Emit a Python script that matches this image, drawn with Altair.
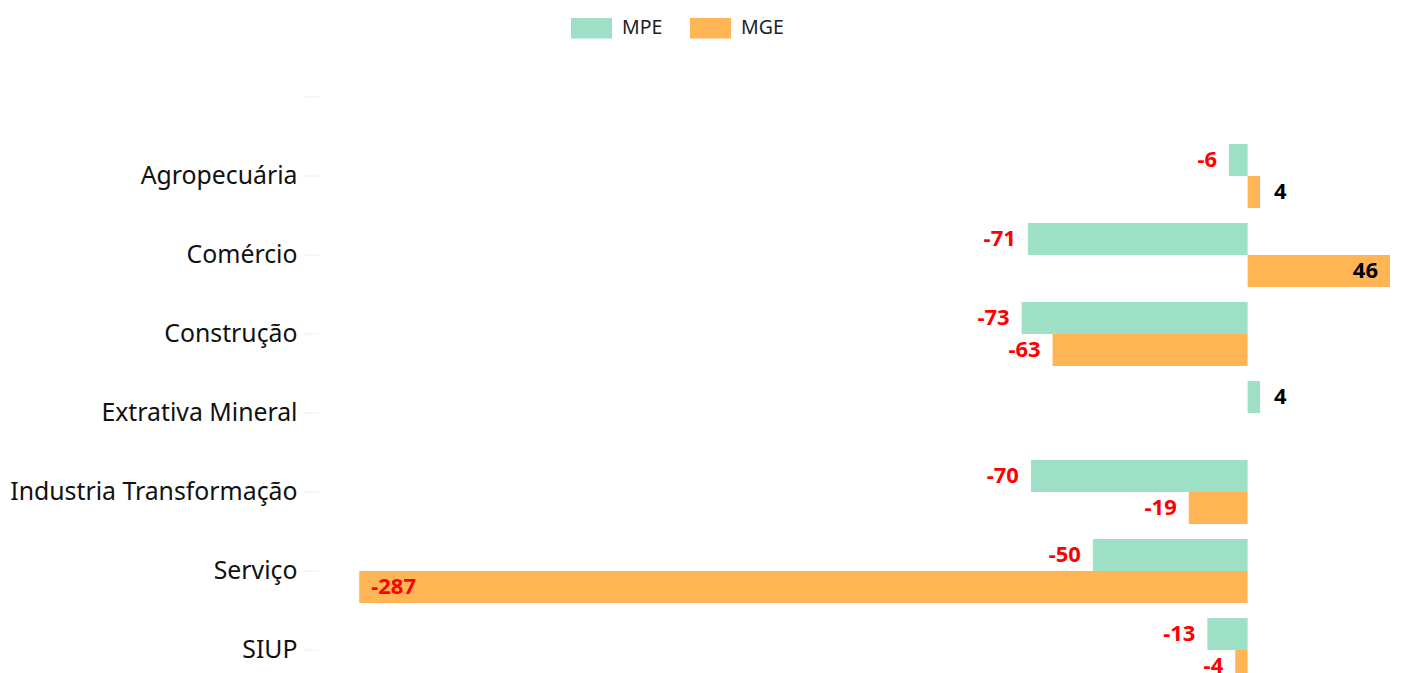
import altair as alt
import pandas as pd

categories = [" ", "Agropecuária", "Comércio", "Construção", "Extrativa Mineral",
              "Industria Transformação", "Serviço", "SIUP"]
mpe = [None, -6, -71, -73, 4, -70, -50, -13]
mge = [None, 4, 46, -63, None, -19, -287, -4]
series = ["MPE", "MGE"]
colors = ["#9DE0C6", "#FFB554"]

rows = []
for c, a, b in zip(categories, mpe, mge):
    if a is not None:
        rows.append({"cat": c, "serie": "MPE", "v": a})
    if b is not None:
        rows.append({"cat": c, "serie": "MGE", "v": b})
df = pd.DataFrame(rows)

FONT = "Noto Sans"

y = alt.Y("cat:N", scale=alt.Scale(domain=categories, paddingInner=0.19, paddingOuter=0.095),
          axis=alt.Axis(title=None, domain=False, ticks=True, tickColor="#eeeeee", tickSize=16,
                        labelFontSize=24.8, labelFont=FONT, labelColor="#111111", labelPadding=6,
                        labelLimit=400, labelOffset=1))
yo = alt.YOffset("serie:N", scale=alt.Scale(domain=series, paddingInner=0, paddingOuter=0))
x = alt.X("v:Q", scale=alt.Scale(domain=[-300, 46], nice=False, zero=True), axis=None)

base = alt.Chart(df).transform_calculate(lbl="toString(datum.v)").encode(y=y, yOffset=yo)

bars = base.mark_bar().encode(
    x=x,
    color=alt.Color("serie:N", scale=alt.Scale(domain=series, range=colors),
                    legend=alt.Legend(title=None, orient="none", legendX=252, legendY=-50,
                                      direction="horizontal",
                                      symbolType="M-1,-0.5L1,-0.5L1,0.5L-1,0.5Z",
                                      symbolSize=1681, symbolStrokeWidth=0, labelFontSize=19.5,
                                      labelFont=FONT, labelColor="#222222", columnPadding=27,
                                      labelOffset=10, symbolOpacity=1)),
)

inside = "datum.v >= 40 || datum.v <= -250"
txt = dict(fontSize=22, font=FONT, fontWeight="bold", baseline="middle")

neg_out = base.mark_text(align="right", dx=-12, color="#FF0000", **txt).encode(
    x=x, text=alt.Text("lbl:N")).transform_filter(f"datum.v < 0 && !({inside})")
pos_out = base.mark_text(align="left", dx=14, color="#000000", **txt).encode(
    x=x, text=alt.Text("lbl:N")).transform_filter(f"datum.v > 0 && !({inside})")
neg_in = base.mark_text(align="left", dx=12, color="#FF0000", **txt).encode(
    x=x, text=alt.Text("lbl:N")).transform_filter(f"datum.v < 0 && ({inside})")
pos_in = base.mark_text(align="right", dx=-12, color="#000000", **txt).encode(
    x=x, text=alt.Text("lbl:N")).transform_filter(f"datum.v > 0 && ({inside})")

chart = alt.layer(bars, neg_out, pos_out, neg_in, pos_in).properties(
    width=1071, height=632,
    autosize=alt.AutoSizeParams(type="none"),
    padding={"left": 311, "top": 49.5, "right": 4, "bottom": 4},
).configure_view(stroke=None)

chart.save("out.html", embed_options={"renderer": "svg", "actions": False})
